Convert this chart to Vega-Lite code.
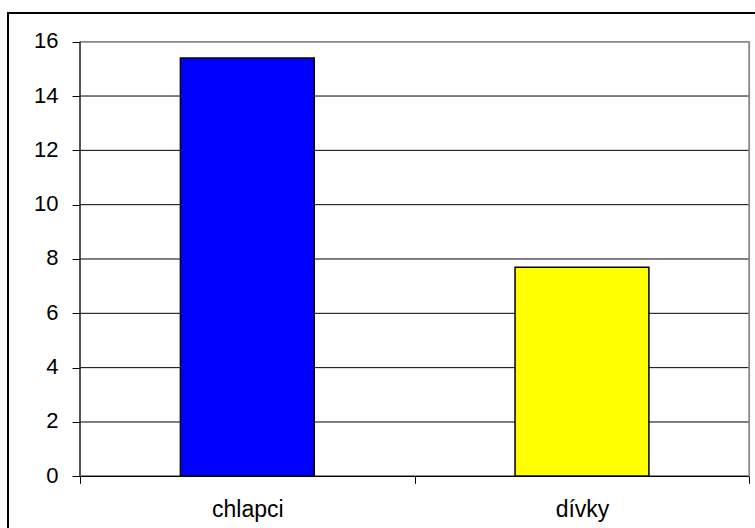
{
  "$schema": "https://vega.github.io/schema/vega-lite/v6.json",
  "width": 749,
  "height": 522,
  "autosize": {"type": "none"},
  "padding": {"left": 8, "top": 13, "right": 0, "bottom": 0},
  "background": "white",
  "config": {
    "view": {"stroke": "#000000", "strokeWidth": 2},
    "font": "Liberation Sans"
  },
  "data": {
    "values": [
      {"pohlavi": "chlapci", "hodnota": 15.4},
      {"pohlavi": "dívky", "hodnota": 7.7}
    ]
  },
  "layer": [
    {
      "data": {"values": [{"v": 2}, {"v": 4}, {"v": 6}, {"v": 8}, {"v": 10}, {"v": 12}, {"v": 14}]},
      "mark": {"type": "rule", "color": "#000000", "strokeWidth": 1},
      "encoding": {
        "y": {"field": "v", "type": "quantitative"},
        "x": {"datum": "chlapci", "bandPosition": 0},
        "x2": {"datum": "dívky", "bandPosition": 1}
      }
    },
    {
      "mark": {"type": "bar", "stroke": "#000000", "strokeWidth": 1.5, "width": {"band": 0.4}},
      "encoding": {
        "x": {
          "field": "pohlavi",
          "type": "nominal",
          "scale": {"domain": ["chlapci", "dívky"], "paddingInner": 0, "paddingOuter": 0.11908, "align": 0.90339},
          "axis": {
            "title": null,
            "orient": "bottom",
            "offset": -58.7,
            "domain": false,
            "grid": false,
            "tickBand": "extent",
            "tickSize": 7,
            "tickColor": "#000000",
            "labelAngle": 0,
            "labelAlign": "center",
            "labelFontSize": 23,
            "labelColor": "#000000",
            "labelPadding": 26
          }
        },
        "y": {
          "field": "hodnota",
          "type": "quantitative",
          "scale": {"domain": [-2.1611, 17.0566], "nice": false, "zero": false},
          "axis": {
            "title": null,
            "values": [0, 2, 4, 6, 8, 10, 12, 14, 16],
            "offset": -72,
            "domain": false,
            "grid": false,
            "tickSize": 8,
            "tickColor": "#000000",
            "labelFontSize": 22,
            "labelColor": "#000000",
            "labelPadding": 14,
            "labelOffset": -1
          }
        },
        "y2": {"datum": 0},
        "fill": {
          "field": "pohlavi",
          "type": "nominal",
          "scale": {"domain": ["chlapci", "dívky"], "range": ["#0000FF", "#FFFF00"]},
          "legend": null
        }
      }
    },
    {
      "mark": {"type": "rule", "color": "#000000", "strokeWidth": 1.2},
      "encoding": {
        "y": {"datum": 0},
        "x": {"datum": "chlapci", "bandPosition": 0},
        "x2": {"datum": "dívky", "bandPosition": 1}
      }
    },
    {
      "mark": {"type": "rule", "color": "#888888", "strokeWidth": 1.5},
      "encoding": {
        "y": {"datum": 16},
        "x": {"datum": "chlapci", "bandPosition": 0},
        "x2": {"datum": "dívky", "bandPosition": 1}
      }
    },
    {
      "mark": {"type": "rule", "color": "#888888", "strokeWidth": 1.5},
      "encoding": {
        "x": {"datum": "dívky", "bandPosition": 1},
        "y": {"datum": 0},
        "y2": {"datum": 16}
      }
    },
    {
      "mark": {"type": "rule", "color": "#333333", "strokeWidth": 1.2},
      "encoding": {
        "x": {"datum": "chlapci", "bandPosition": 0},
        "y": {"datum": 0},
        "y2": {"datum": 16}
      }
    }
  ]
}
